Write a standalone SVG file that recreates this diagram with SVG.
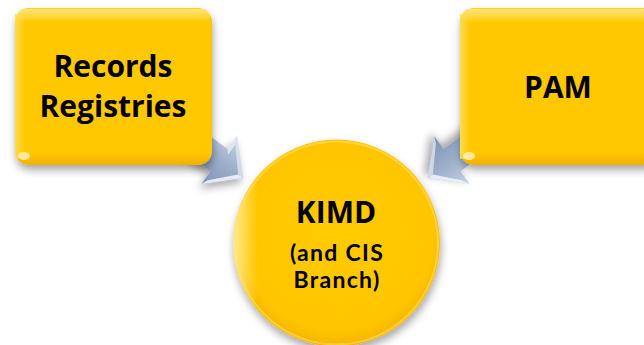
<svg xmlns="http://www.w3.org/2000/svg" width="644" height="345" viewBox="0 0 644 345">
<style>
.lbl{font-family:"Open Sans","Liberation Sans",Arial,sans-serif;font-weight:bold;fill:#000;text-anchor:middle}
.big{font-size:30px}
.small{font-family:Lato,"Liberation Sans",Arial,sans-serif;font-size:23px;letter-spacing:1.3px}
</style>
<defs>
<filter id="sh" x="-20%" y="-20%" width="140%" height="150%">
<feGaussianBlur in="SourceAlpha" stdDeviation="4"/>
<feOffset dx="1" dy="5" result="b"/>
<feComponentTransfer><feFuncA type="linear" slope="0.35"/></feComponentTransfer>
<feMerge><feMergeNode/><feMergeNode in="SourceGraphic"/></feMerge>
</filter>
<linearGradient id="boxFill" x1="0" y1="0" x2="0" y2="1">
<stop offset="0" stop-color="#FFD21F"/>
<stop offset="0.08" stop-color="#FFC800"/>
<stop offset="0.92" stop-color="#FFC800"/>
<stop offset="1" stop-color="#F2B000"/>
</linearGradient>
<linearGradient id="topHi" x1="0" y1="0" x2="0" y2="1">
<stop offset="0" stop-color="#FFE680" stop-opacity="0.9"/>
<stop offset="1" stop-color="#FFE680" stop-opacity="0"/>
</linearGradient>
<linearGradient id="leftHi" x1="0" y1="0" x2="1" y2="0">
<stop offset="0" stop-color="#FFE066" stop-opacity="0.8"/>
<stop offset="1" stop-color="#FFE066" stop-opacity="0"/>
</linearGradient>
<radialGradient id="circFill" cx="0.5" cy="0.45" r="0.55">
<stop offset="0" stop-color="#FFCA00"/>
<stop offset="0.85" stop-color="#FFC600"/>
<stop offset="1" stop-color="#F5B400"/>
</radialGradient>
<linearGradient id="circHi" x1="0" y1="0" x2="1" y2="0">
<stop offset="0" stop-color="#FFF3B0" stop-opacity="0.9"/>
<stop offset="0.12" stop-color="#FFE680" stop-opacity="0"/>
</linearGradient>
<linearGradient id="arrFill" x1="0" y1="0" x2="0" y2="1">
<stop offset="0" stop-color="#C9D4E4"/>
<stop offset="0.45" stop-color="#9FB1CC"/>
<stop offset="1" stop-color="#7E92B2"/>
</linearGradient>
<path id="arrowShape" d="M0,0 L-30,-30 L-30,-14 L-75,-14 L-75,14 L-30,14 L-30,30 Z"/>
</defs>

<g id="connectors">
<g transform="translate(243,178) rotate(36.6)">
<use href="#arrowShape" fill="url(#arrFill)" filter="url(#sh)"/>
<path d="M-30,-30 L-26,-22 L-26,-10 L-30,-14 Z" fill="#E8EEF6" opacity="0.8"/>
<path d="M0,0 L-30,-30 L-26,-22 L-6,0 Z" fill="#DDE5F0" opacity="0.8"/>
<path d="M0,0 L-30,30 L-27,23 L-6,0 Z" fill="#EEF2F8" opacity="0.9"/>
</g>
<g transform="translate(428,178) rotate(143.4)">
<use href="#arrowShape" fill="url(#arrFill)" filter="url(#sh)"/>
<path d="M0,0 L-30,-30 L-26,-22 L-6,0 Z" fill="#EEF2F8" opacity="0.9"/>
<path d="M0,0 L-30,30 L-27,23 L-6,0 Z" fill="#DDE5F0" opacity="0.8"/>
</g>
</g>

<g id="node-records">
<rect x="15" y="8" width="197" height="157" rx="14" fill="url(#boxFill)" filter="url(#sh)"/>
<rect x="17" y="9" width="193" height="14" rx="7" fill="url(#topHi)"/>
<rect x="15" y="14" width="10" height="145" fill="url(#leftHi)"/>
<ellipse cx="24" cy="156" rx="6" ry="4" fill="#FFF4C0" opacity="0.8"/>
<text class="lbl big" x="113" y="77">Records</text>
<text class="lbl big" x="113" y="117">Registries</text>
</g>

<g id="node-pam">
<rect x="460" y="8" width="197" height="157" rx="14" fill="url(#boxFill)" filter="url(#sh)"/>
<rect x="462" y="9" width="193" height="14" rx="7" fill="url(#topHi)"/>
<rect x="460" y="14" width="10" height="145" fill="url(#leftHi)"/>
<ellipse cx="469" cy="156" rx="6" ry="4" fill="#FFF4C0" opacity="0.8"/>
<text class="lbl big" x="558" y="98">PAM</text>
</g>

<g id="node-kimd">
<circle cx="336.5" cy="243" r="103.5" fill="url(#circFill)" filter="url(#sh)"/>
<circle cx="336.5" cy="243" r="103.5" fill="url(#circHi)"/>
<circle cx="336.5" cy="243" r="101.5" fill="none" stroke="#FFE27A" stroke-width="2" stroke-opacity="0.5"/>
<text class="lbl big" x="336" y="223">KIMD</text>
<text class="lbl small" x="337" y="261">(and CIS</text>
<text class="lbl small" x="337" y="288">Branch)</text>
</g>
</svg>
